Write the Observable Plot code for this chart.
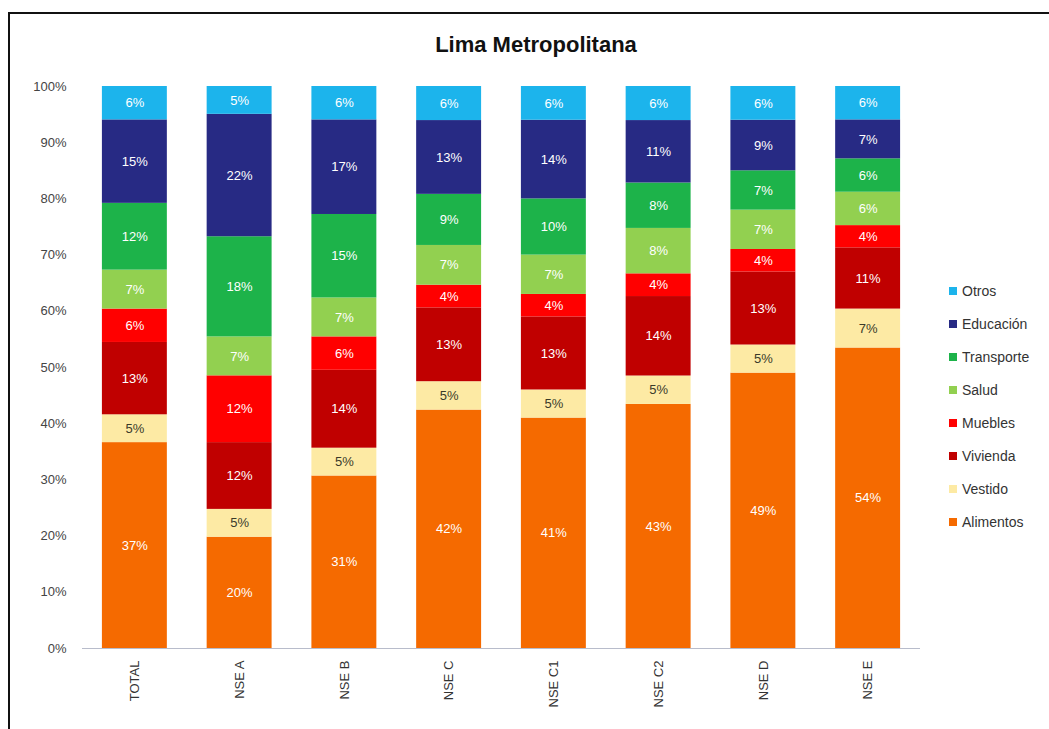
<!DOCTYPE html>
<html>
<head>
<meta charset="utf-8">
<script src="https://cdn.jsdelivr.net/npm/d3@7"></script>
<script src="https://cdn.jsdelivr.net/npm/@observablehq/plot@0.6"></script>
<style>
  html, body { margin: 0; padding: 0; background: #fff; }
  body { width: 1049px; height: 729px; position: relative; overflow: hidden; font-family: "Liberation Sans", Arial, sans-serif; }
  #frame { position: absolute; left: 8px; top: 12px; width: 1100px; height: 800px; border-left: 2px solid #111; border-top: 2px solid #111; }
  #title { position: absolute; left: 0; width: 1072px; top: 32px; text-align: center; font-weight: bold; font-size: 22px; color: #111; }
  #chart { position: absolute; left: 0; top: 70px; }
  #legend { position: absolute; left: 949px; top: 274px; font-size: 14px; color: #333; }
  .item { height: 33px; display: flex; align-items: center; }
  .sw { width: 8px; height: 8px; margin-right: 5px; }
</style>
</head>
<body>
<div id="frame"></div>
<div id="title">Lima Metropolitana</div>
<div id="chart"></div>
<div id="legend"></div>
<script>
const groups = ["TOTAL", "NSE A", "NSE B", "NSE C", "NSE C1", "NSE C2", "NSE D", "NSE E"];
const series = ["Alimentos", "Vestido", "Vivienda", "Muebles", "Salud", "Transporte", "Educación", "Otros"];
const colors = ["#f56a00", "#fdeaa4", "#c00000", "#ff0000", "#92d050", "#1db34a", "#272a84", "#1cb4ec"];

const alimentos  = [37, 20, 31, 42, 41, 43, 49, 54];
const vestido    = [5, 5, 5, 5, 5, 5, 5, 7];
const vivienda   = [13, 12, 14, 13, 13, 14, 13, 11];
const muebles    = [6, 12, 6, 4, 4, 4, 4, 4];
const salud      = [7, 7, 7, 7, 7, 8, 7, 6];
const transporte = [12, 18, 15, 9, 10, 8, 7, 6];
const educacion  = [15, 22, 17, 13, 14, 11, 9, 7];
const otros      = [6, 5, 6, 6, 6, 6, 6, 6];

const valuesBySeries = [alimentos, vestido, vivienda, muebles, salud, transporte, educacion, otros];
const data = [];
series.forEach((s, i) => groups.forEach((g, j) => data.push({group: g, serie: s, value: valuesBySeries[i][j]})));

const stackOpts = {x: "group", y: "value", z: "serie", offset: "normalize", order: series};

const plot = Plot.plot({
  width: 940,
  height: 659,
  marginLeft: 82,
  marginRight: 20,
  marginTop: 16,
  marginBottom: 81,
  style: {fontFamily: "Liberation Sans, Arial, sans-serif", fontSize: "13px", background: "transparent"},
  x: {domain: groups, paddingInner: 0.38, paddingOuter: 0.19, round: false, label: null},
  y: {domain: [0, 1], label: null},
  color: {domain: series, range: colors},
  marks: [
    Plot.barY(data, Plot.stackY({...stackOpts, fill: "serie"})),
    Plot.text(data, Plot.stackY({...stackOpts, text: d => d.value + "%", fill: d => d.serie === "Vestido" ? "#3a3a2a" : "#ffffff", fontSize: 13})),
    Plot.axisY({ticks: d3.range(0, 1.0001, 0.1), tickFormat: d3.format(".0%"), tickSize: 0, tickPadding: 16, fill: "#444", fontSize: 13}),
    Plot.axisY({ticks: [], tickSize: 0, line: true, stroke: "#b8bccb"}),
    Plot.axisX({tickRotate: -90, tickSize: 0, tickPadding: 12, fill: "#333", fontSize: 13}),
    Plot.ruleY([0], {stroke: "#b8bccb"})
  ]
});
document.getElementById("chart").appendChild(plot);

const legend = document.getElementById("legend");
series.slice().reverse().forEach((s) => {
  const i = series.indexOf(s);
  const div = document.createElement("div");
  div.className = "item";
  div.innerHTML = `<span class="sw" style="background:${colors[i]}"></span><span>${s}</span>`;
  legend.appendChild(div);
});
</script>
</body>
</html>
